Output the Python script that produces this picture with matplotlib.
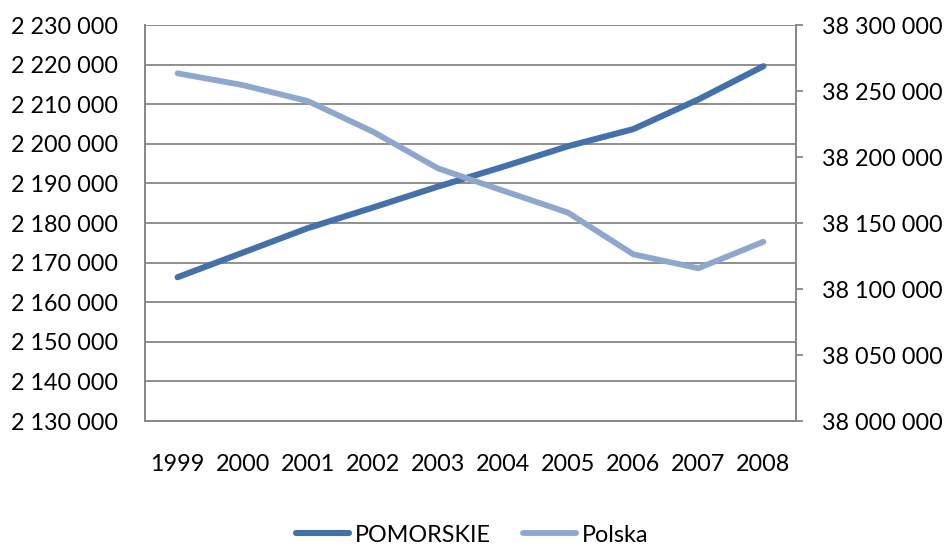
import matplotlib
matplotlib.use("Agg")
import matplotlib.pyplot as plt
from matplotlib.ticker import FuncFormatter, MultipleLocator

years = [1999, 2000, 2001, 2002, 2003, 2004, 2005, 2006, 2007, 2008]
pomorskie = [2166300, 2172500, 2178700, 2183900, 2189200, 2194200, 2199400, 2203700, 2211200, 2219600]
polska = [38263400, 38254500, 38242400, 38219200, 38191400, 38174500, 38157800, 38126300, 38115700, 38135800]

dark = "#4471AA"
light = "#8EA7CF"
grey = "#878787"

plt.rcParams['font.family'] = ['Lato', 'DejaVu Sans']
fs = 16.8

fig = plt.figure(figsize=(9.44, 5.47), dpi=100)
ax = fig.add_axes([145/944, 1-421/547, (796-145)/944, (421-25)/547])
ax2 = ax.twinx()

fmt = FuncFormatter(lambda v, p: f"{int(round(v)):,}".replace(",", " "))

l1, = ax.plot(years, pomorskie, color=dark, lw=4.4, solid_capstyle='round', solid_joinstyle='round', label="POMORSKIE")
l2, = ax2.plot(years, polska, color=light, lw=4.2, solid_capstyle='round', solid_joinstyle='round', label="Polska")

ax.set_xlim(1998.5, 2008.5)
ax.set_ylim(2130000, 2230000)
ax.yaxis.set_major_locator(MultipleLocator(10000))
ax.yaxis.set_major_formatter(fmt)
ax2.set_ylim(38000000, 38300000)
ax2.yaxis.set_major_locator(MultipleLocator(50000))
ax2.yaxis.set_major_formatter(fmt)
ax.set_xticks(years)
ax.set_xticklabels([str(y) for y in years])

ax.grid(axis='y', color=grey, lw=1.3)
ax.set_axisbelow(True)

for a in (ax, ax2):
    for s in a.spines.values():
        s.set_color(grey)
        s.set_linewidth(1.3)
    a.spines['top'].set_visible(False)

ax.tick_params(axis='x', length=0, pad=24, labelsize=fs, colors='black')
ax.tick_params(axis='y', length=0, pad=19.5, labelsize=fs, colors='black')
ax2.tick_params(axis='y', length=5, width=1.3, color=grey, pad=14, labelsize=fs, labelcolor='black')

fig.legend(handles=[l1, l2], loc='center', bbox_to_anchor=(0.5, 1-535/547), ncol=2,
           frameon=False, fontsize=fs, handlelength=2.3, handletextpad=0.25, columnspacing=1.35,
           borderaxespad=0, borderpad=0.1)

fig.savefig("out.png", dpi=100)
